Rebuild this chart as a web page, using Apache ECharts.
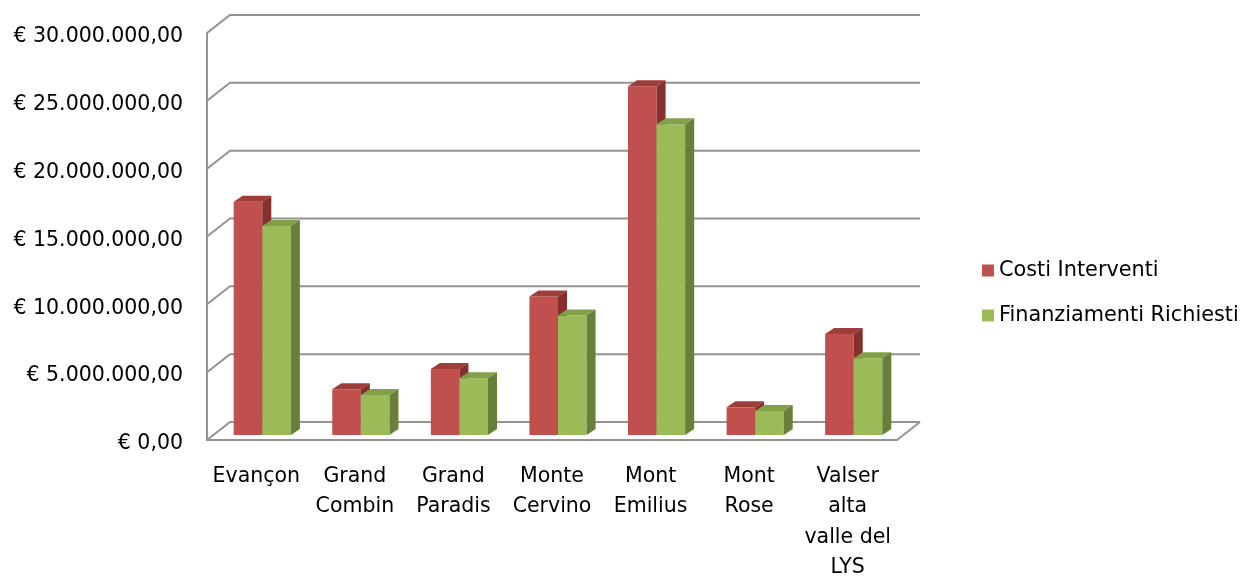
<!DOCTYPE html>
<html>
<head>
<meta charset="utf-8">
<script src="https://cdn.jsdelivr.net/npm/echarts@6/dist/echarts.min.js"></script>
<style>
html,body{margin:0;padding:0;background:#fff;}
#chart{width:1242px;height:576px;}
</style>
</head>
<body>
<div id="chart"></div>
<script>
var categories = ['Evançon', 'Grand\nCombin', 'Grand\nParadis', 'Monte\nCervino', 'Mont\nEmilius', 'Mont\nRose', 'Valser\nalta\nvalle del\nLYS'];
var costiInterventi = [17200000, 3370000, 4870000, 10200000, 25700000, 2040000, 7450000];
var finanziamentiRichiesti = [15400000, 2950000, 4180000, 8800000, 22900000, 1770000, 5650000];
var yTicks = [0, 5000000, 10000000, 15000000, 20000000, 25000000, 30000000];

var FONT = 'DejaVu Sans';
var DEPTH_X = 9, DEPTH_Y = -6;
var FRONT_DX = -6, FRONT_DY = 5, BACK_DX = 17, BACK_DY = -13;
var GRID_COLOR = '#939393';

function euro(v) {
  var s = String(Math.round(v));
  s = s.replace(/\B(?=(\d{3})+(?!\d))/g, '.');
  return '€ ' + s + ',00';
}

function barRenderer(side, front, top, dark) {
  return function (params, api) {
    var idx = api.value(0), val = api.value(1);
    var c = api.coord([idx, val]);
    var b = api.coord([idx, 0]);
    var w = api.size([1, 0])[0] * 0.29;
    var x0 = side === 0 ? c[0] - w : c[0];
    var x1 = x0 + w;
    var yt = c[1], yb = b[1];
    return {
      type: 'group',
      children: [
        { type: 'rect', shape: { x: x0, y: yt, width: w, height: yb - yt }, style: { fill: front } },
        { type: 'polygon', shape: { points: [[x0, yt], [x1, yt], [x1 + DEPTH_X, yt + DEPTH_Y], [x0 + DEPTH_X, yt + DEPTH_Y]] }, style: { fill: top } },
        { type: 'polygon', shape: { points: [[x1, yt], [x1 + DEPTH_X, yt + DEPTH_Y], [x1 + DEPTH_X, yb + DEPTH_Y], [x1, yb]] }, style: { fill: dark } }
      ]
    };
  };
}

function gridRenderer(params, api) {
  var v = api.value(0);
  var y = api.coord([0, v])[1];
  var cs = params.coordSys;
  var children = [{
    type: 'polyline',
    shape: { points: [[cs.x + FRONT_DX, y + FRONT_DY], [cs.x + BACK_DX, y + BACK_DY], [cs.x + cs.width + BACK_DX, y + BACK_DY]] },
    style: { stroke: GRID_COLOR, lineWidth: 2, fill: null }
  }];
  if (v === 0) {
    children.push({
      type: 'line',
      shape: { x1: cs.x + cs.width + FRONT_DX, y1: y + FRONT_DY, x2: cs.x + cs.width + BACK_DX, y2: y + BACK_DY },
      style: { stroke: GRID_COLOR, lineWidth: 2 }
    });
  }
  return { type: 'group', children: children };
}

var chart = echarts.init(document.getElementById('chart'));
chart.setOption({
  backgroundColor: '#ffffff',
  animation: false,
  textStyle: { fontFamily: FONT },
  legend: {
    orient: 'vertical',
    left: 977, top: 255,
    itemWidth: 12, itemHeight: 12, itemGap: 24,
    icon: 'rect',
    textStyle: { fontFamily: FONT, fontSize: 20.8, color: '#000' },
    data: ['Costi Interventi', 'Finanziamenti Richiesti']
  },
  grid: [
    { left: 207, right: 345, top: 33, bottom: 136, outerBoundsMode: 'none', containLabel: false },
    { left: 213, right: 339, top: 28, bottom: 141, outerBoundsMode: 'none', containLabel: false }
  ],
  xAxis: [
    { type: 'category', gridIndex: 0, data: categories,
      axisLine: { show: true, lineStyle: { color: GRID_COLOR, width: 2 } },
      axisTick: { show: false },
      axisLabel: { fontFamily: FONT, fontSize: 20.5, color: '#000', lineHeight: 30.5, margin: 21, interval: 0 }
    },
    { type: 'category', gridIndex: 1, data: categories, show: false }
  ],
  yAxis: [
    { type: 'value', gridIndex: 0, min: 0, max: 30000000, interval: 5000000,
      axisLine: { show: true, lineStyle: { color: GRID_COLOR, width: 2 } },
      axisTick: { show: false }, splitLine: { show: false },
      axisLabel: { fontFamily: FONT, fontSize: 20.5, color: '#000', margin: 24, verticalAlign: 'top', lineHeight: 8, formatter: euro }
    },
    { type: 'value', gridIndex: 1, min: 0, max: 30000000, interval: 5000000, show: false, splitLine: { show: false } }
  ],
  series: [
    { type: 'custom', name: 'grid', xAxisIndex: 1, yAxisIndex: 1, silent: true, z: 1,
      data: yTicks.map(function (t) { return [t]; }), encode: { y: 0 },
      renderItem: gridRenderer },
    { type: 'custom', name: 'Costi Interventi', xAxisIndex: 1, yAxisIndex: 1, z: 2,
      itemStyle: { color: '#C0504D' },
      data: costiInterventi.map(function (v, i) { return [i, v]; }), encode: { x: 0, y: 1 },
      renderItem: barRenderer(0, '#C0504D', '#9E3D3A', '#85302D') },
    { type: 'custom', name: 'Finanziamenti Richiesti', xAxisIndex: 1, yAxisIndex: 1, z: 3,
      itemStyle: { color: '#9BBB59' },
      data: finanziamentiRichiesti.map(function (v, i) { return [i, v]; }), encode: { x: 0, y: 1 },
      renderItem: barRenderer(1, '#9BBB59', '#82A049', '#687F39') }
  ]
});
</script>
</body>
</html>
